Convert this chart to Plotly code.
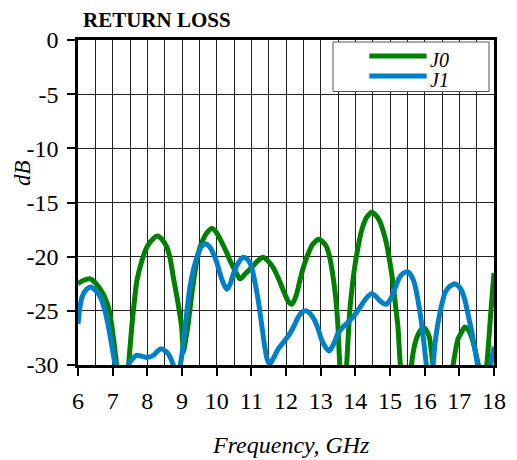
import plotly.graph_objects as go

# ---- data ----
j0_freq = [6.0, 6.15, 6.35, 6.5, 6.64, 6.78, 6.88, 6.98, 7.06, 7.12, 7.2, 7.3, 7.4, 7.46,
           7.55, 7.63, 7.70, 7.85, 7.99, 8.15, 8.29, 8.42, 8.56, 8.66, 8.75, 8.87, 8.99,
           9.04, 9.10, 9.19, 9.28, 9.38, 9.47, 9.57, 9.72, 9.86, 10.0, 10.15, 10.27, 10.39,
           10.53, 10.67, 10.74, 10.82, 11.01, 11.18, 11.34, 11.48, 11.63, 11.78, 11.92,
           12.06, 12.16, 12.23, 12.31, 12.40, 12.50, 12.62, 12.74, 12.93, 13.05, 13.17,
           13.27, 13.36, 13.44, 13.50, 13.55, 13.62, 13.70, 13.75, 13.84, 13.91, 13.98,
           14.08, 14.18, 14.32, 14.47, 14.60, 14.70, 14.80, 14.90, 15.0, 15.09, 15.16,
           15.23, 15.30, 15.45, 15.55, 15.62, 15.70, 15.76, 15.88, 16.0, 16.08, 16.14,
           16.24, 16.4, 16.65, 16.82, 16.96, 17.06, 17.15, 17.25, 17.34, 17.44, 17.55,
           17.68, 17.79, 17.9, 18.0]
j0_db = [-22.5, -22.2, -22.05, -22.4, -23.0, -23.8, -24.7, -26.5, -28.5, -30.2, -32.5, -33.5, -32.0, -30.0,
         -26.5, -24.0, -22.2, -20.3, -19.1, -18.4, -18.1, -18.4, -19.1, -20.2, -21.9, -24.0, -26.5,
         -28.8, -27.8, -25.9, -23.5, -21.3, -19.7, -18.7, -17.8, -17.4, -17.8, -18.7, -19.5, -20.4,
         -21.3, -22.05, -21.9, -21.6, -21.0, -20.4, -20.05, -20.4, -21.0, -22.0, -23.1,
         -24.1, -24.4, -24.1, -23.4, -22.2, -21.0, -19.9, -19.0, -18.4, -18.6, -19.1,
         -20.2, -21.9, -24.0, -26.5, -30.0, -33.0, -33.0, -30.0, -25.0, -22.8, -21.0,
         -19.1, -17.6, -16.4, -15.9, -16.2, -16.7, -17.6, -18.8, -20.6, -22.5, -24.5,
         -26.5, -30.0, -33.0, -33.0, -30.0, -28.3, -27.6, -26.8, -26.6, -27.0, -27.5,
         -30.0, -34.0, -34.0, -30.0, -27.6, -27.0, -26.5, -26.7, -27.3, -28.4, -30.0,
         -32.0, -30.0, -25.5, -21.5]

j1_freq = [6.0, 6.05, 6.12, 6.25, 6.37, 6.5, 6.64, 6.77, 6.88, 6.98, 7.07, 7.2, 7.35, 7.46,
           7.58, 7.70, 7.85, 7.99, 8.18, 8.30, 8.40, 8.52, 8.61, 8.75, 8.85, 8.95, 9.02,
           9.09, 9.16, 9.23, 9.33, 9.43, 9.55, 9.67, 9.80, 9.90, 10.0, 10.10, 10.20, 10.29,
           10.38, 10.48, 10.62, 10.77, 10.90, 11.01, 11.10, 11.20, 11.30, 11.39, 11.47,
           11.54, 11.65, 11.78, 11.95, 12.11, 12.23, 12.35, 12.47, 12.59, 12.71, 12.83,
           12.93, 13.03, 13.15, 13.25, 13.37, 13.50, 13.67, 13.84, 14.0, 14.13, 14.30,
           14.47, 14.60, 14.70, 14.88, 15.0, 15.09, 15.18, 15.28, 15.40, 15.52, 15.62,
           15.71, 15.80, 15.90, 15.98, 16.05, 16.15, 16.24, 16.30, 16.38, 16.48, 16.58,
           16.70, 16.86, 16.97, 17.06, 17.16, 17.25, 17.35, 17.44, 17.53, 17.70, 17.90,
           18.0]
j1_db = [-26.2, -24.8, -23.7, -23.0, -22.8, -23.1, -23.7, -24.9, -26.5, -28.3, -30.0, -33.0, -33.0, -30.0,
         -29.4, -29.1, -29.2, -29.3, -29.1, -28.7, -28.5, -28.7, -29.0, -30.0, -31.0, -30.0, -28.5,
         -26.5, -24.5, -22.8, -21.2, -20.05, -19.1, -18.8, -19.1, -19.7, -20.5, -21.6, -22.5, -23.0,
         -22.6, -21.6, -20.6, -20.05, -20.3, -21.0, -22.3, -24.05, -26.3, -28.4, -29.6,
         -29.9, -29.3, -28.5, -27.8, -27.1, -26.4, -25.6, -25.1, -25.0, -25.3, -25.9,
         -26.7, -27.7, -28.4, -28.7, -28.1, -27.1, -26.4, -25.9, -25.3, -24.7, -23.9,
         -23.4, -23.7, -24.05, -24.4, -24.0, -23.4, -22.6, -21.9, -21.5, -21.4, -21.8,
         -22.5, -23.9, -25.9, -28.0, -30.0, -32.0, -30.0, -28.0, -26.2, -24.6, -23.4,
         -22.8, -22.5, -22.7, -23.1, -24.0, -25.3, -26.8, -28.4, -30.0, -32.0, -30.0,
         -28.3]

x_ticks = list(range(6, 19))
y_ticks = [0, -5, -10, -15, -20, -25, -30]
series_names = ["J0", "J1"]
series_colors = ["#008000", "#0080C6"]

FONT = "Liberation Serif"

fig = go.Figure()
fig.add_trace(go.Scatter(x=j0_freq, y=j0_db, mode="lines", name=series_names[0],
                         line=dict(color=series_colors[0], width=5, shape="spline", smoothing=0.6),
                         showlegend=False))
fig.add_trace(go.Scatter(x=j1_freq, y=j1_db, mode="lines", name=series_names[1],
                         line=dict(color=series_colors[1], width=5, shape="spline", smoothing=0.6),
                         showlegend=False))

axis_common = dict(
    showline=True, linecolor="black", linewidth=2.5, mirror=True,
    ticks="outside", ticklen=8, tickwidth=2, tickcolor="black",
    showgrid=True, gridcolor="#222", gridwidth=1, zeroline=False,
    tickfont=dict(family=FONT, size=24, color="black"),
)

fig.update_xaxes(range=[6, 18], tickvals=x_ticks, ticktext=[str(v) for v in x_ticks],
                 minor=dict(dtick=0.5, tick0=6, showgrid=True, gridcolor="#222", gridwidth=1, ticks=""),
                 ticklabelstandoff=4, **axis_common)
fig.update_yaxes(range=[-30, 0], tickvals=y_ticks, ticktext=[str(v) for v in y_ticks],
                 ticklabelstandoff=4, **axis_common)

annotations = [
    dict(text="<b>RETURN LOSS</b>", x=0.008, y=1.0615, xref="paper", yref="paper",
         xanchor="left", yanchor="middle", showarrow=False,
         font=dict(family=FONT, size=21, color="black")),
    dict(text="<i>dB</i>", x=-0.1322, y=0.591, xref="paper", yref="paper", textangle=-90,
         xanchor="center", yanchor="middle", showarrow=False,
         font=dict(family=FONT, size=23, color="black")),
    dict(text="<i>Frequency, GHz</i>", x=0.512, y=-0.246, xref="paper", yref="paper",
         xanchor="center", yanchor="middle", showarrow=False,
         font=dict(family=FONT, size=24, color="black")),
]
# legend (drawn manually to match the reference box)
leg_y = [0.9508, 0.8892]
leg_text_y = [0.940, 0.8785]
for name, ty in zip(series_names, leg_text_y):
    annotations.append(dict(text=f"<i>{name}</i>", x=0.842, y=ty, xref="paper", yref="paper",
                            xanchor="left", yanchor="middle", showarrow=False, height=19,
                            font=dict(family=FONT, size=20, color="black")))

shapes = [dict(type="rect", xref="paper", yref="paper", x0=0.613, x1=0.988, y0=0.8415, y1=0.9938,
               line=dict(color="#555", width=1), fillcolor="white", layer="above")]
for col, ly in zip(series_colors, leg_y):
    shapes.append(dict(type="line", xref="paper", yref="paper", x0=0.7003, x1=0.838, y0=ly, y1=ly,
                       line=dict(color=col, width=5), layer="above"))

fig.update_layout(
    width=509, height=452,
    margin=dict(l=70, r=23, t=32, b=95),
    paper_bgcolor="white", plot_bgcolor="white",
    annotations=annotations, shapes=shapes,
    font=dict(family=FONT, color="black"),
)

fig.write_html("out.html")
